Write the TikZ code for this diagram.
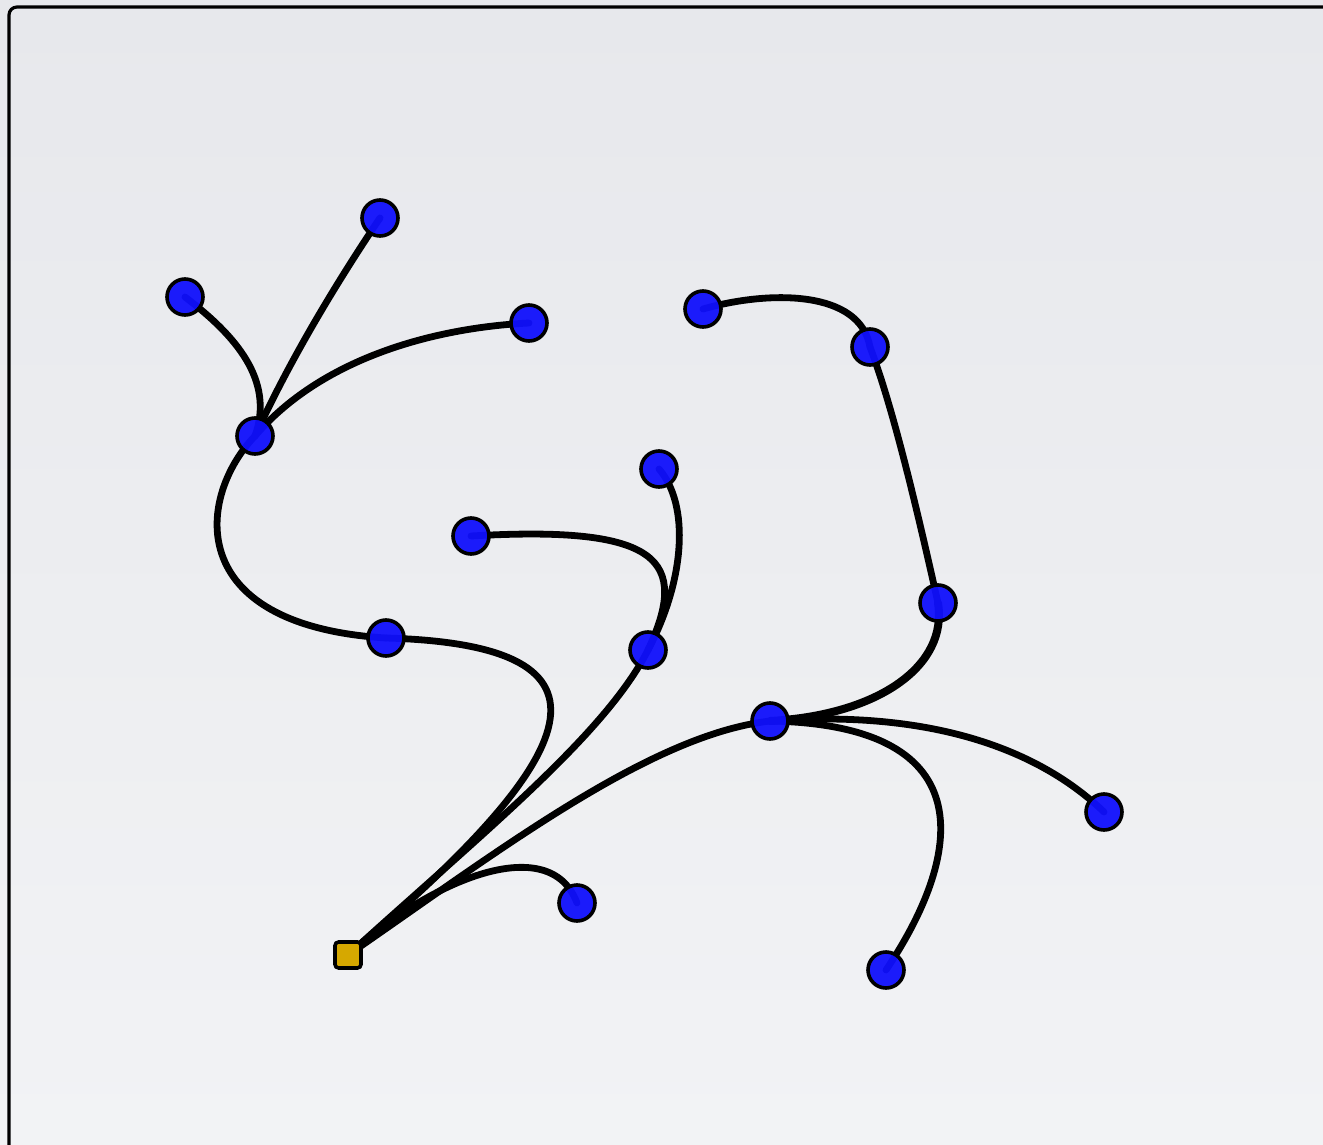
\documentclass[tikz,border=0pt]{standalone}
\definecolor{nodeblue}{RGB}{16,16,252}
\definecolor{rootgold}{RGB}{214,168,0}
\definecolor{bgtop}{RGB}{231,232,236}
\definecolor{bgbot}{RGB}{242,243,245}
\pgfdeclarelayer{bglayer}
\pgfdeclarelayer{edgelayer}
\pgfsetlayers{bglayer,edgelayer,main}
\begin{document}
\begin{tikzpicture}[x=0.5pt,y=-0.5pt,
  leaf/.style={circle,draw=black,line width=1.8pt,fill=nodeblue,fill opacity=0.95,draw opacity=1,minimum size=18pt,inner sep=0pt},
  rootbox/.style={rectangle,rounded corners=1.8pt,draw=black,line width=1.8pt,fill=rootgold,minimum size=13pt,inner sep=0pt},
  link/.style={line width=3.4pt,line cap=round,draw=black}]
\useasboundingbox (0,0) rectangle (1323,1145);
\begin{pgfonlayer}{bglayer}
  \shade[top color=bgtop,bottom color=bgbot] (0,0) rectangle (1323,1145);
  \draw[line width=1.6pt,rounded corners=4pt] (9,1160) -- (9,7) -- (1340,7);
\end{pgfonlayer}
% nodes
\node[rootbox] (R) at (348,955) {};
\node[leaf] (A) at (386,638) {};
\node[leaf] (B) at (648,650) {};
\node[leaf] (C) at (770,721) {};
\node[leaf] (D) at (577,903) {};
\node[leaf] (E) at (255,436) {};
\node[leaf] (F) at (185,297) {};
\node[leaf] (G) at (380,218) {};
\node[leaf] (H) at (529,323) {};
\node[leaf] (I) at (659,469) {};
\node[leaf] (J) at (471,536) {};
\node[leaf] (K) at (938,603) {};
\node[leaf] (L) at (1104,812) {};
\node[leaf] (M) at (886,970) {};
\node[leaf] (N) at (870,347) {};
\node[leaf] (O) at (703,309) {};
\begin{pgfonlayer}{edgelayer}
  \draw[link] (R.center) .. controls (585,755) and (635,645) .. (A.center);
  \draw[link] (R.center) .. controls (480,835) and (605,735) .. (B.center);
  \draw[link] (R.center) .. controls (500,850) and (650,735) .. (C.center);
  \draw[link] (R.center) .. controls (430,880) and (550,830) .. (D.center);
  \draw[link] (A.center) .. controls (180,625) and (198,495) .. (E.center);
  \draw[link] (E.center) .. controls (275,380) and (235,335) .. (F.center);
  \draw[link] (E.center) .. controls (290,360) and (335,285) .. (G.center);
  \draw[link] (E.center) .. controls (320,360) and (430,328) .. (H.center);
  \draw[link] (B.center) .. controls (685,580) and (690,505) .. (I.center);
  \draw[link] (B.center) .. controls (690,560) and (660,525) .. (J.center);
  \draw[link,line width=4pt] (C.center) .. controls (880,715) and (948,665) .. (K.center);
  \draw[link] (C.center) .. controls (950,708) and (1050,760) .. (L.center);
  \draw[link] (C.center) .. controls (990,725) and (960,860) .. (M.center);
  \draw[link] (K.center) .. controls (915,500) and (892,405) .. (N.center);
  \draw[link] (N.center) .. controls (860,290) and (770,290) .. (O.center);
\end{pgfonlayer}
\end{tikzpicture}
\end{document}
